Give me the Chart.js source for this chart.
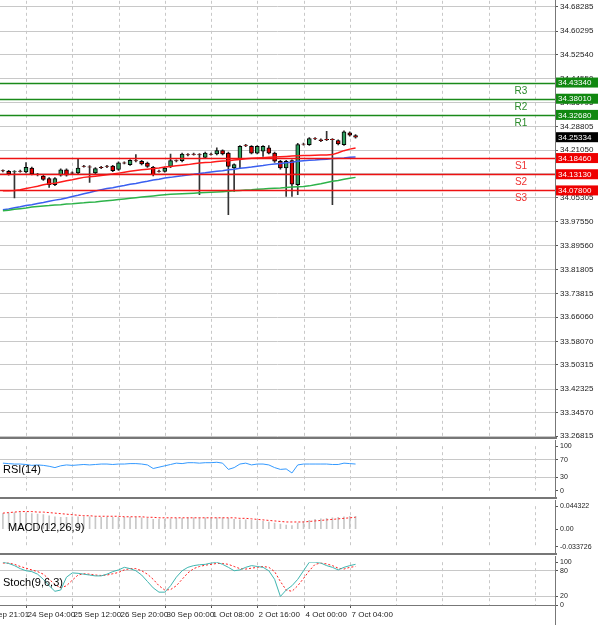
<!DOCTYPE html>
<html><head><meta charset="utf-8">
<script src="https://cdn.jsdelivr.net/npm/chart.js@4.4.1/dist/chart.umd.min.js"></script>
<style>
body{margin:0;background:#fff;width:600px;height:625px;overflow:hidden;position:relative;font-family:"Liberation Sans",Arial,sans-serif}
.p{position:absolute;left:0;width:600px;overflow:hidden}
.sep{position:absolute;left:0;width:557px;height:2px;background:#777}
</style></head><body>
<div class="p" style="top:0;height:438px"><canvas id="c0" width="600" height="452" style="display:block;margin-top:-6px"></canvas></div>
<div class="sep" style="top:437px"></div>
<div class="p" style="top:440px;height:57px"><canvas id="c1" width="600" height="57"></canvas></div>
<div class="sep" style="top:497px"></div>
<div class="p" style="top:500px;height:53px"><canvas id="c2" width="600" height="53"></canvas></div>
<div class="sep" style="top:553px"></div>
<div class="p" style="top:556px;height:69px"><canvas id="c3" width="600" height="69"></canvas></div>
<script>
const opens=[34.143,34.141,34.139,34.142,34.139,34.152,34.130,34.125,34.117,34.097,34.128,34.146,34.136,34.136,34.158,34.156,34.136,34.154,34.158,34.158,34.147,34.169,34.163,34.176,34.174,34.168,34.154,34.142,34.141,34.157,34.176,34.176,34.196,34.198,34.196,34.187,34.198,34.198,34.209,34.201,34.152,34.180,34.227,34.223,34.201,34.207,34.218,34.201,34.174,34.152,34.176,34.097,34.231,34.229,34.249,34.245,34.246,34.246,34.242,34.229,34.268,34.259];
const closes=[34.142,34.132,34.140,34.141,34.154,34.132,34.130,34.114,34.097,34.117,34.146,34.128,34.135,34.152,34.157,34.155,34.150,34.153,34.157,34.143,34.169,34.168,34.177,34.175,34.165,34.157,34.130,34.141,34.152,34.176,34.175,34.198,34.195,34.197,34.195,34.201,34.197,34.209,34.198,34.157,34.163,34.223,34.226,34.201,34.223,34.223,34.201,34.174,34.152,34.174,34.099,34.229,34.230,34.249,34.248,34.242,34.245,34.245,34.231,34.271,34.260,34.25334];
const highs=[34.146,34.144,34.143,34.145,34.170,34.155,34.134,34.128,34.120,34.120,34.149,34.149,34.139,34.183,34.161,34.160,34.153,34.157,34.161,34.161,34.172,34.172,34.180,34.196,34.177,34.171,34.157,34.145,34.155,34.198,34.179,34.201,34.199,34.201,34.199,34.204,34.201,34.218,34.212,34.204,34.166,34.226,34.230,34.226,34.226,34.226,34.226,34.204,34.177,34.177,34.179,34.233,34.234,34.252,34.252,34.248,34.273,34.249,34.245,34.274,34.271,34.262];
const lows=[34.139,34.128,34.053,34.138,34.136,34.129,34.126,34.111,34.088,34.094,34.125,34.125,34.132,34.133,34.155,34.104,34.133,34.150,34.153,34.140,34.144,34.165,34.160,34.172,34.162,34.154,34.126,34.138,34.138,34.153,34.172,34.172,34.192,34.194,34.064,34.184,34.194,34.195,34.195,33.998,34.075,34.150,34.222,34.198,34.198,34.190,34.198,34.170,34.148,34.058,34.058,34.064,34.227,34.226,34.245,34.239,34.242,34.031,34.228,34.226,34.257,34.250];
const maFast=[34.077,34.077,34.078,34.080,34.084,34.088,34.092,34.097,34.100,34.102,34.106,34.110,34.113,34.117,34.121,34.123,34.125,34.127,34.130,34.132,34.135,34.138,34.141,34.144,34.146,34.148,34.150,34.152,34.155,34.157,34.159,34.161,34.163,34.166,34.168,34.170,34.171,34.173,34.175,34.176,34.178,34.180,34.182,34.184,34.185,34.186,34.187,34.188,34.189,34.190,34.191,34.192,34.193,34.193,34.194,34.195,34.195,34.196,34.202,34.209,34.214,34.218];
const maMid=[34.014,34.017,34.021,34.024,34.028,34.031,34.035,34.038,34.042,34.046,34.049,34.053,34.058,34.062,34.067,34.071,34.076,34.080,34.084,34.087,34.091,34.094,34.098,34.101,34.105,34.108,34.112,34.115,34.119,34.121,34.124,34.126,34.129,34.131,34.134,34.136,34.139,34.141,34.143,34.146,34.148,34.151,34.153,34.155,34.158,34.160,34.163,34.165,34.167,34.169,34.171,34.174,34.176,34.177,34.178,34.180,34.181,34.183,34.184,34.185,34.187,34.188];
const maSlow=[34.011,34.013,34.016,34.018,34.020,34.023,34.025,34.027,34.028,34.030,34.031,34.033,34.034,34.036,34.037,34.039,34.040,34.042,34.044,34.046,34.048,34.050,34.052,34.054,34.056,34.058,34.060,34.062,34.064,34.065,34.066,34.067,34.068,34.069,34.070,34.071,34.072,34.073,34.074,34.075,34.077,34.078,34.079,34.080,34.082,34.083,34.084,34.085,34.086,34.088,34.089,34.090,34.091,34.093,34.097,34.100,34.104,34.108,34.111,34.115,34.118,34.121];
const rsi=[62,61,60,60,59,57,58,57,55,52,56,58,57,58,59,58,59,60,60,59,60,60,61,61,60,58,50,53,56,59,62,61,63,63,62,63,63,64,62,48,52,60,62,58,60,60,58,52,48,49,40,58,60,60,60,60,60,59,59,62,61,60];
const macdHist=[0.030,0.031,0.032,0.032,0.031,0.030,0.029,0.028,0.026,0.024,0.023,0.023,0.024,0.024,0.024,0.024,0.024,0.023,0.023,0.023,0.023,0.023,0.023,0.023,0.022,0.021,0.019,0.019,0.019,0.020,0.021,0.021,0.022,0.022,0.022,0.022,0.022,0.022,0.022,0.021,0.019,0.018,0.018,0.017,0.016,0.015,0.014,0.012,0.010,0.008,0.007,0.012,0.015,0.017,0.019,0.020,0.021,0.022,0.023,0.024,0.025,0.025];
const macdSignal=[0.031,0.032,0.033,0.034,0.034,0.034,0.033,0.033,0.032,0.031,0.030,0.029,0.028,0.027,0.026,0.026,0.025,0.025,0.025,0.025,0.025,0.024,0.024,0.024,0.024,0.023,0.023,0.022,0.022,0.022,0.022,0.022,0.022,0.022,0.022,0.022,0.022,0.022,0.022,0.022,0.022,0.021,0.021,0.020,0.019,0.018,0.017,0.016,0.015,0.014,0.014,0.014,0.014,0.015,0.016,0.017,0.018,0.019,0.020,0.021,0.022,0.023];
const stochMain=[100,97,92,85,80,78,72,60,45,32,35,65,75,74,72,70,68,68,72,78,82,88,85,80,70,55,40,30,30,45,65,80,88,92,94,95,98,100,95,88,80,82,88,92,90,88,80,60,20,35,45,60,80,100,100,98,92,88,82,88,92,95];
const stochSignal=[98,98,95,90,86,82,78,72,60,48,40,45,58,70,73,72,70,69,70,73,76,82,85,85,80,72,60,45,35,36,45,60,75,85,90,93,95,97,97,95,90,85,84,86,88,90,88,78,55,35,32,45,62,80,95,98,96,92,86,84,88,90];
const priceTicks=[34.68285,34.60295,34.52540,34.44550,34.36795,34.28805,34.21050,34.13295,34.05305,33.97550,33.89560,33.81805,33.73815,33.66060,33.58070,33.50315,33.42325,33.34570,33.26815];
const levelNames=["R3","R2","R1","S1","S2","S3"];
const levelValues=[34.43340,34.38010,34.32680,34.18460,34.13130,34.07800];
const timeLabels=["23 Sep 21:01","24 Sep 04:00","25 Sep 12:00","26 Sep 20:00","30 Sep 00:00","1 Oct 08:00","2 Oct 16:00","4 Oct 00:00","7 Oct 04:00"];
const timeIdx=[-4,4,12,20,28,36,44,52,60];
const gridIdx=[4,12,20,28,36,44,52,60,68,76,84,92];
const NSLOTS=96;
const slots=Array.from({length:NSLOTS},(_,i)=>i);
const FONT='"Liberation Sans",Arial,sans-serif';

const vgrid={id:'vgrid',beforeDatasetsDraw(ch){const c=ch.ctx,a=ch.chartArea,x=ch.scales.x;c.save();c.strokeStyle='#c8c8c8';c.setLineDash([3,3]);c.lineWidth=1;gridIdx.forEach(i=>{const px=Math.round(x.getPixelForValue(i))+0.5;c.beginPath();c.moveTo(px,a.top);c.lineTo(px,a.bottom);c.stroke();});c.restore();}};
const frame={id:'frame',afterDraw(ch){const c=ch.ctx,a=ch.chartArea;c.save();c.strokeStyle='#777';c.lineWidth=1;c.beginPath();c.moveTo(a.right+0.5,0);c.lineTo(a.right+0.5,ch.height);c.stroke();c.restore();}};
function yAxis(extra){return Object.assign({position:'right',afterFit:s=>{s.width=45;},border:{display:false},grid:{color:'#c8c8c8',tickLength:3,lineWidth:1,tickColor:'#555'},ticks:{font:{size:8,family:FONT},color:'#222',padding:2}},extra);}
const xAxis={type:'category',labels:slots,display:false,offset:true};
const base={responsive:false,animation:false,devicePixelRatio:1,layout:{padding:0},plugins:{legend:{display:false},tooltip:{enabled:false}}};

const levels={id:'levels',afterDatasetsDraw(ch){const c=ch.ctx,a=ch.chartArea,y=ch.scales.y;c.save();levelValues.forEach((v,i)=>{const isR=levelNames[i][0]==='R';const col=isR?'#1a8a1a':'#ee1111';const py=Math.round(y.getPixelForValue(v))+0.5;c.strokeStyle=col;c.lineWidth=1.6;c.beginPath();c.moveTo(0,py);c.lineTo(a.right,py);c.stroke();c.fillStyle=isR?'#2a8a2a':'#ee3333';c.font='10px '+FONT;c.textAlign='center';c.textBaseline='top';c.fillText(levelNames[i],521,py+3);});c.restore();}};
const tags={id:'tags',afterDraw(ch){const c=ch.ctx,a=ch.chartArea,y=ch.scales.y;c.save();c.font='8px '+FONT;c.textBaseline='middle';c.textAlign='left';const box=(v,bg)=>{const py=y.getPixelForValue(v);c.fillStyle=bg;c.fillRect(a.right+1,py-5,42,10);c.fillStyle='#fff';c.fillText(v.toFixed(5),a.right+3,py+0.5);};levelValues.forEach((v,i)=>box(v,levelNames[i][0]==='R'?'#118811':'#ee0000'));box(closes[closes.length-1],'#000');c.restore();}};
new Chart(document.getElementById('c0'),{data:{datasets:[
 {type:'line',data:maSlow,borderColor:'#2db34a',borderWidth:1.5,pointRadius:0,order:1},
 {type:'line',data:maMid,borderColor:'#3a5ff0',borderWidth:1.5,pointRadius:0,order:1},
 {type:'line',data:maFast,borderColor:'#ff1a1a',borderWidth:1.5,pointRadius:0,order:1},
 {type:'bar',data:lows.map((l,i)=>[l,highs[i]]),backgroundColor:'#333',barThickness:1,grouped:false,order:3},
 {type:'bar',data:opens.map((o,i)=>[o,closes[i]]),backgroundColor:opens.map((o,i)=>closes[i]>=o?'#2e9e5e':'#e00000'),borderColor:'#000',borderWidth:1,borderSkipped:false,barThickness:4,grouped:false,order:2}
]},options:Object.assign({},base,{scales:{x:xAxis,y:yAxis({min:33.2584,max:34.7027,afterBuildTicks:s=>{s.ticks=priceTicks.map(v=>({value:v}));},ticks:{font:{size:8,family:FONT},color:'#222',padding:2,callback:v=>v.toFixed(5)}})}}),plugins:[vgrid,levels,tags,frame]});

function label(txt,x,y){return {id:'lbl',afterDatasetsDraw(ch){const c=ch.ctx;c.save();c.fillStyle='#000';c.font='11px '+FONT;c.textBaseline='middle';c.fillText(txt,x,y);c.restore();}};}
function fixedTicks(vals,fmt){return {afterBuildTicks:s=>{s.ticks=vals.map(v=>({value:v}));},ticks:{font:{size:7,family:FONT},color:'#222',padding:2,callback:fmt}};}

new Chart(document.getElementById('c1'),{type:'line',data:{datasets:[{data:rsi,borderColor:'#3399ff',borderWidth:1,pointRadius:0}]},options:Object.assign({},base,{layout:{padding:{top:5,bottom:4}},scales:{x:xAxis,y:yAxis(Object.assign({min:0,max:100,grid:{color:c=>(c.tick&&(c.tick.value===70||c.tick.value===30))?'#c8c8c8':'rgba(0,0,0,0)',tickLength:3,tickColor:'#555'}},fixedTicks([0,30,70,100],v=>String(v))))}}),plugins:[vgrid,label('RSI(14)',3,30),frame]});

new Chart(document.getElementById('c2'),{data:{datasets:[
 {type:'bar',data:macdHist,backgroundColor:'#c8c8c8',barThickness:1,order:2},
 {type:'line',data:macdSignal,borderColor:'#ff2020',borderWidth:1,borderDash:[2,2],pointRadius:0,order:1}
]},options:Object.assign({},base,{layout:{padding:{top:4,bottom:3}},scales:{x:xAxis,y:yAxis(Object.assign({min:-0.033726,max:0.044322,grid:{color:'rgba(0,0,0,0)',tickLength:3,tickColor:'#555'}},fixedTicks([-0.033726,0,0.044322],v=>v===0?'0.00':String(v))))}}),plugins:[vgrid,label('MACD(12,26,9)',8,28),frame]});

const xlabels={id:'xl',afterDraw(ch){const c=ch.ctx,a=ch.chartArea,x=ch.scales.x;c.save();c.fillStyle='#222';c.font='8px '+FONT;c.textBaseline='middle';c.textAlign='left';c.strokeStyle='#555';timeLabels.forEach((t,i)=>{const px=Math.round(x.getPixelForValue(timeIdx[i]))+0.5;c.beginPath();c.moveTo(px,a.bottom);c.lineTo(px,a.bottom+3);c.stroke();c.fillText(t,px+1,a.bottom+10);});c.strokeStyle='#777';c.beginPath();c.moveTo(0,a.bottom+0.5);c.lineTo(a.right,a.bottom+0.5);c.stroke();c.restore();}};
new Chart(document.getElementById('c3'),{type:'line',data:{datasets:[
 {data:stochMain,borderColor:'#40b5b0',borderWidth:1,pointRadius:0},
 {data:stochSignal,borderColor:'#ff2020',borderWidth:1,borderDash:[2,2],pointRadius:0}
]},options:Object.assign({},base,{layout:{padding:{top:3,bottom:20}},scales:{x:xAxis,y:yAxis(Object.assign({min:0,max:100,grid:{color:c=>(c.tick&&(c.tick.value===80||c.tick.value===20))?'#c8c8c8':'rgba(0,0,0,0)',tickLength:3,tickColor:'#555'}},fixedTicks([0,20,80,100],v=>String(v))))}}),plugins:[vgrid,label('Stoch(9,6,3)',3,27),xlabels,frame]});
</script></body></html>
